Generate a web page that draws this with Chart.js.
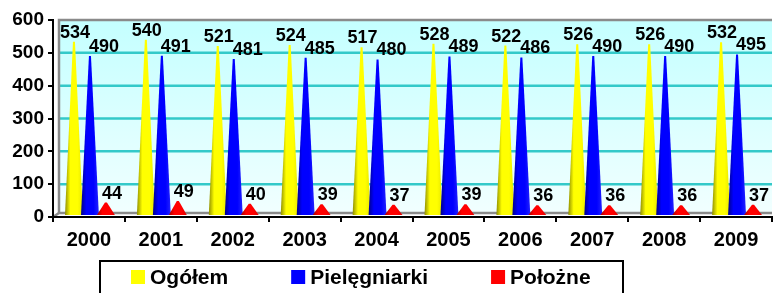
<!DOCTYPE html>
<html>
<head>
<meta charset="utf-8">
<script src="https://cdn.jsdelivr.net/npm/chart.js@4.4.0/dist/chart.umd.min.js"></script>
<style>
  body { margin: 0; background: #fff; }
</style>
</head>
<body>
<canvas id="chart" width="773" height="293"></canvas>
<script>
// chart data
const years = ['2000', '2001', '2002', '2003', '2004', '2005', '2006', '2007', '2008', '2009'];
const ogolem = [534, 540, 521, 524, 517, 528, 522, 526, 526, 532];
const pielegniarki = [490, 491, 481, 485, 480, 489, 486, 490, 490, 495];
const polozne = [44, 49, 40, 39, 37, 39, 36, 36, 36, 37];
const seriesNames = ['Ogółem', 'Pielęgniarki', 'Położne'];

const FONT = "'Liberation Sans', Arial, sans-serif";

// colours for each cone: dark edge, main, right edge
const coneColors = [
    ['#8f8f00', '#ffff00', '#e8e800'],
    ['#00008a', '#0000ff', '#2222ff'],
    ['#a00000', '#ff0000', '#e00000']
];
const legendColors = ['#ffff00', '#0000ff', '#ff0000'];
const labelShift = [2, 15, 7];

// Draws the cyan back wall and its grid lines
const wallPlugin = {
    id: 'wall',
    beforeDraw(chart) {
        const ctx = chart.ctx;
        const a = chart.chartArea;
        const y = chart.scales.y;
        const left = a.left + 6;

        ctx.save();
        const g = ctx.createLinearGradient(0, a.top, 0, a.bottom);
        g.addColorStop(0, '#c4ffff');
        g.addColorStop(1, '#f2ffff');
        ctx.fillStyle = g;
        ctx.fillRect(left, a.top, a.right - left, a.bottom - 4 - a.top);

        ctx.strokeStyle = '#33c9c9';
        ctx.lineWidth = 2.5;
        y.ticks.forEach(t => {
            if (t.value === 0 || t.value === 600) return;
            const py = y.getPixelForValue(t.value);
            ctx.beginPath();
            ctx.moveTo(left, py);
            ctx.lineTo(a.right, py);
            ctx.stroke();
        });

        // grey frame of the wall and the floor
        ctx.strokeStyle = '#8a8a8a';
        ctx.lineWidth = 2.5;
        ctx.beginPath();
        ctx.moveTo(left, a.bottom - 4);
        ctx.lineTo(left, a.top);
        ctx.lineTo(a.right, a.top);
        ctx.stroke();
        ctx.beginPath();
        ctx.moveTo(a.left, a.bottom);
        ctx.lineTo(left, a.bottom - 4);
        ctx.lineTo(a.right, a.bottom - 4);
        ctx.stroke();
        ctx.restore();
    }
};

// Draws each bar as a cone and puts the value above it
const conePlugin = {
    id: 'cones',
    beforeDatasetsDraw(chart) {
        const ctx = chart.ctx;
        ctx.save();
        chart.data.datasets.forEach((ds, i) => {
            const meta = chart.getDatasetMeta(i);
            const cols = coneColors[i];
            meta.data.forEach(bar => {
                const x = bar.x + 1;
                const half = bar.width * 0.56;
                const base = bar.base - 1;
                const g = ctx.createLinearGradient(x - half, 0, x + half, 0);
                g.addColorStop(0, cols[0]);
                g.addColorStop(0.3, cols[1]);
                g.addColorStop(0.7, cols[1]);
                g.addColorStop(1, cols[2]);
                ctx.fillStyle = g;
                ctx.beginPath();
                ctx.moveTo(x - half, base);
                ctx.lineTo(x - 1, bar.y);
                ctx.lineTo(x + 1, bar.y);
                ctx.lineTo(x + half, base);
                ctx.closePath();
                ctx.fill();
            });
        });

        ctx.fillStyle = '#000';
        ctx.font = 'bold 18px ' + FONT;
        ctx.textAlign = 'center';
        ctx.textBaseline = 'alphabetic';
        chart.data.datasets.forEach((ds, i) => {
            const meta = chart.getDatasetMeta(i);
            meta.data.forEach((bar, j) => {
                ctx.fillText(ds.data[j], bar.x + labelShift[i], bar.y - 4);
            });
        });
        ctx.restore();
        return false;
    },
    afterDraw(chart) {
        // legend in a black box at the bottom
        const ctx = chart.ctx;
        ctx.save();
        ctx.strokeStyle = '#000';
        ctx.lineWidth = 2;
        ctx.strokeRect(100, 261, 523, 50);

        ctx.font = 'bold 21px ' + FONT;
        ctx.textBaseline = 'middle';
        ctx.textAlign = 'left';
        let x = 131;
        chart.data.datasets.forEach((ds, i) => {
            ctx.fillStyle = legendColors[i];
            ctx.fillRect(x, 270, 14, 14);
            ctx.fillStyle = '#000';
            ctx.fillText(ds.label, x + 19, 278);
            x += 19 + ctx.measureText(ds.label).width + 63;
        });
        ctx.restore();
    }
};

const ctx = document.getElementById('chart').getContext('2d');
new Chart(ctx, {
    type: 'bar',
    data: {
        labels: years,
        datasets: [
            { label: seriesNames[0], data: ogolem, backgroundColor: legendColors[0] },
            { label: seriesNames[1], data: pielegniarki, backgroundColor: legendColors[1] },
            { label: seriesNames[2], data: polozne, backgroundColor: legendColors[2] }
        ]
    },
    options: {
        responsive: false,
        animation: false,
        devicePixelRatio: 1,
        categoryPercentage: 0.667,
        barPercentage: 1,
        layout: { padding: { top: 20, right: 1, bottom: 46, left: 0 } },
        plugins: {
            legend: { display: false },
            tooltip: { enabled: false }
        },
        scales: {
            x: {
                offset: true,
                grid: {
                    offset: true,
                    drawOnChartArea: false,
                    drawTicks: true,
                    tickLength: 5,
                    color: '#000',
                    lineWidth: 2
                },
                border: { display: true, color: '#000', width: 2 },
                ticks: {
                    color: '#000',
                    padding: 6,
                    font: { family: FONT, size: 20, weight: 'bold' }
                },
                afterFit(scale) { scale.height = 30; }
            },
            y: {
                min: 0,
                max: 600,
                ticks: {
                    stepSize: 100,
                    color: '#000',
                    padding: 4,
                    font: { family: FONT, size: 19, weight: 'bold' }
                },
                grid: {
                    drawOnChartArea: false,
                    drawTicks: true,
                    tickLength: 5,
                    tickColor: '#000',
                    lineWidth: 2
                },
                border: { display: true, color: '#000', width: 2 },
                afterFit(scale) { scale.width = 53; }
            }
        }
    },
    plugins: [wallPlugin, conePlugin]
});
</script>
</body>
</html>
